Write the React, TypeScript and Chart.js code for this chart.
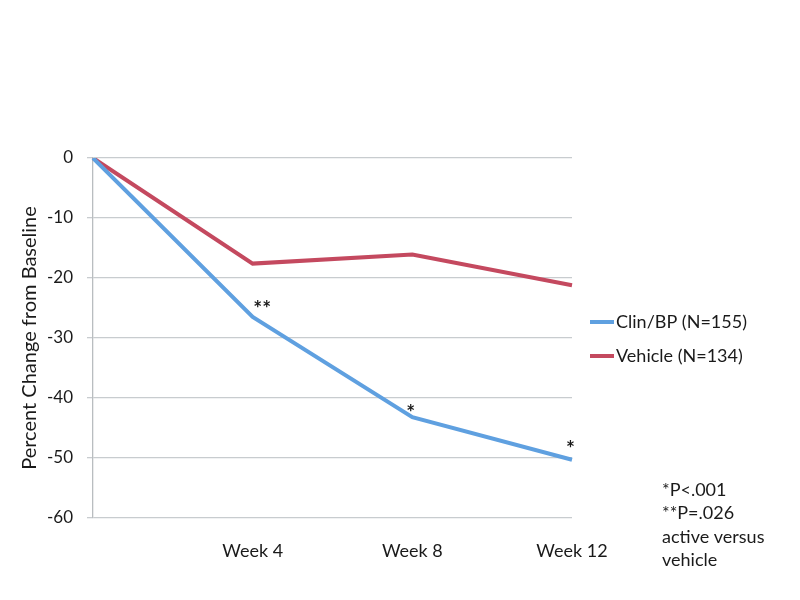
import React, { useEffect, useRef } from 'react';
import { Chart, registerables } from 'chart.js';

Chart.register(...registerables);

const categories = ['', 'Week 4', 'Week 8', 'Week 12'];
const clinBP = [0, -26.5, -43.2, -50.3];
const vehicle = [0, -17.6, -16.1, -21.2];
const seriesLabels = ['Clin/BP (N=155)', 'Vehicle (N=134)'];
const seriesColors = ['#5fa0e0', '#c4495f'];
const yTitle = 'Percent Change from Baseline';
const yMin = -60;
const yMax = 0;
const yStep = 10;
const significance = [
  { x: 1.06, y: -24.2, text: '**' },
  { x: 1.99, y: -41.5, text: '*' },
  { x: 2.99, y: -47.5, text: '*' },
];
const footnote = ['*P<.001', '**P=.026', 'active versus', 'vehicle'];

const FONT = 'Lato, "Open Sans", sans-serif';
const TEXT = '#1a1a1a';

const extrasPlugin = {
  id: 'extras',
  afterDatasetsDraw(chart: any) {
    const ctx = chart.ctx;
    const xs = chart.scales.x;
    const ys = chart.scales.y;
    ctx.save();
    // significance marks
    ctx.fillStyle = TEXT;
    ctx.font = `bold 21px ${FONT}`;
    ctx.textAlign = 'center';
    ctx.textBaseline = 'middle';
    significance.forEach((s) => {
      const px = xs.getPixelForValue(s.x);
      const py = ys.getPixelForValue(s.y);
      ctx.fillText(s.text, px, py + 6);
    });
    // legend
    const legX = xs.right + 18;
    const legY0 = 322;
    const legGap = 34;
    chart.data.datasets.forEach((ds: any, i: number) => {
      const y = legY0 + i * legGap;
      ctx.strokeStyle = ds.borderColor;
      ctx.lineWidth = 4;
      ctx.beginPath();
      ctx.moveTo(legX, y);
      ctx.lineTo(legX + 24, y);
      ctx.stroke();
      ctx.fillStyle = TEXT;
      ctx.font = `18px ${FONT}`;
      ctx.textAlign = 'left';
      ctx.textBaseline = 'middle';
      ctx.fillText(ds.label, legX + 26, y);
    });
    // footnote
    ctx.font = `18px ${FONT}`;
    ctx.textAlign = 'left';
    ctx.textBaseline = 'middle';
    footnote.forEach((line, i) => {
      ctx.fillText(line, xs.right + 90, 490 + i * 23.5);
    });
    ctx.restore();
  },
};

export default function App() {
  const ref = useRef<HTMLCanvasElement | null>(null);
  useEffect(() => {
    if (!ref.current) return;
    const chart = new Chart(ref.current, {
      type: 'line',
      data: {
        labels: categories,
        datasets: [
          {
            label: seriesLabels[0],
            data: clinBP,
            borderColor: seriesColors[0],
            backgroundColor: seriesColors[0],
            borderWidth: 4,
            pointRadius: 0,
            tension: 0,
            fill: false,
          },
          {
            label: seriesLabels[1],
            data: vehicle,
            borderColor: seriesColors[1],
            backgroundColor: seriesColors[1],
            borderWidth: 4,
            pointRadius: 0,
            tension: 0,
            fill: false,
          },
        ],
      },
      options: {
        animation: false,
        responsive: false,
        maintainAspectRatio: false,
        layout: { padding: { top: 158, right: 228, bottom: 0, left: 0 } },
        plugins: {
          legend: { display: false },
          tooltip: { enabled: false },
        },
        scales: {
          x: {
            type: 'category',
            offset: false,
            grid: { display: false, drawTicks: false },
            border: { display: false },
            ticks: {
              color: TEXT,
              font: { family: FONT, size: 18 },
              padding: 22,
              maxRotation: 0,
              autoSkip: false,
            },
            afterFit: (s: any) => {
              s.height = 82;
            },
          },
          y: {
            min: yMin,
            max: yMax,
            ticks: {
              stepSize: yStep,
              color: TEXT,
              font: { family: FONT, size: 17 },
              padding: 14,
            },
            grid: { color: '#c8cccf', lineWidth: 1.3, tickLength: 6, drawTicks: true },
            border: { display: true, color: '#b9bdc0', width: 1.3 },
            title: {
              display: true,
              text: yTitle,
              color: TEXT,
              font: { family: FONT, size: 20 },
              padding: { top: 18, bottom: 0 },
            },
            afterFit: (s: any) => {
              s.width = 93;
            },
          },
        },
      },
      plugins: [extrasPlugin],
    });
    return () => chart.destroy();
  }, []);
  return (
    <div style={{ position: 'fixed', left: 0, top: 0, width: 800, height: 600, background: '#fff' }}>
      <canvas ref={ref} width={800} height={600} style={{ width: 800, height: 600 }} />
    </div>
  );
}
